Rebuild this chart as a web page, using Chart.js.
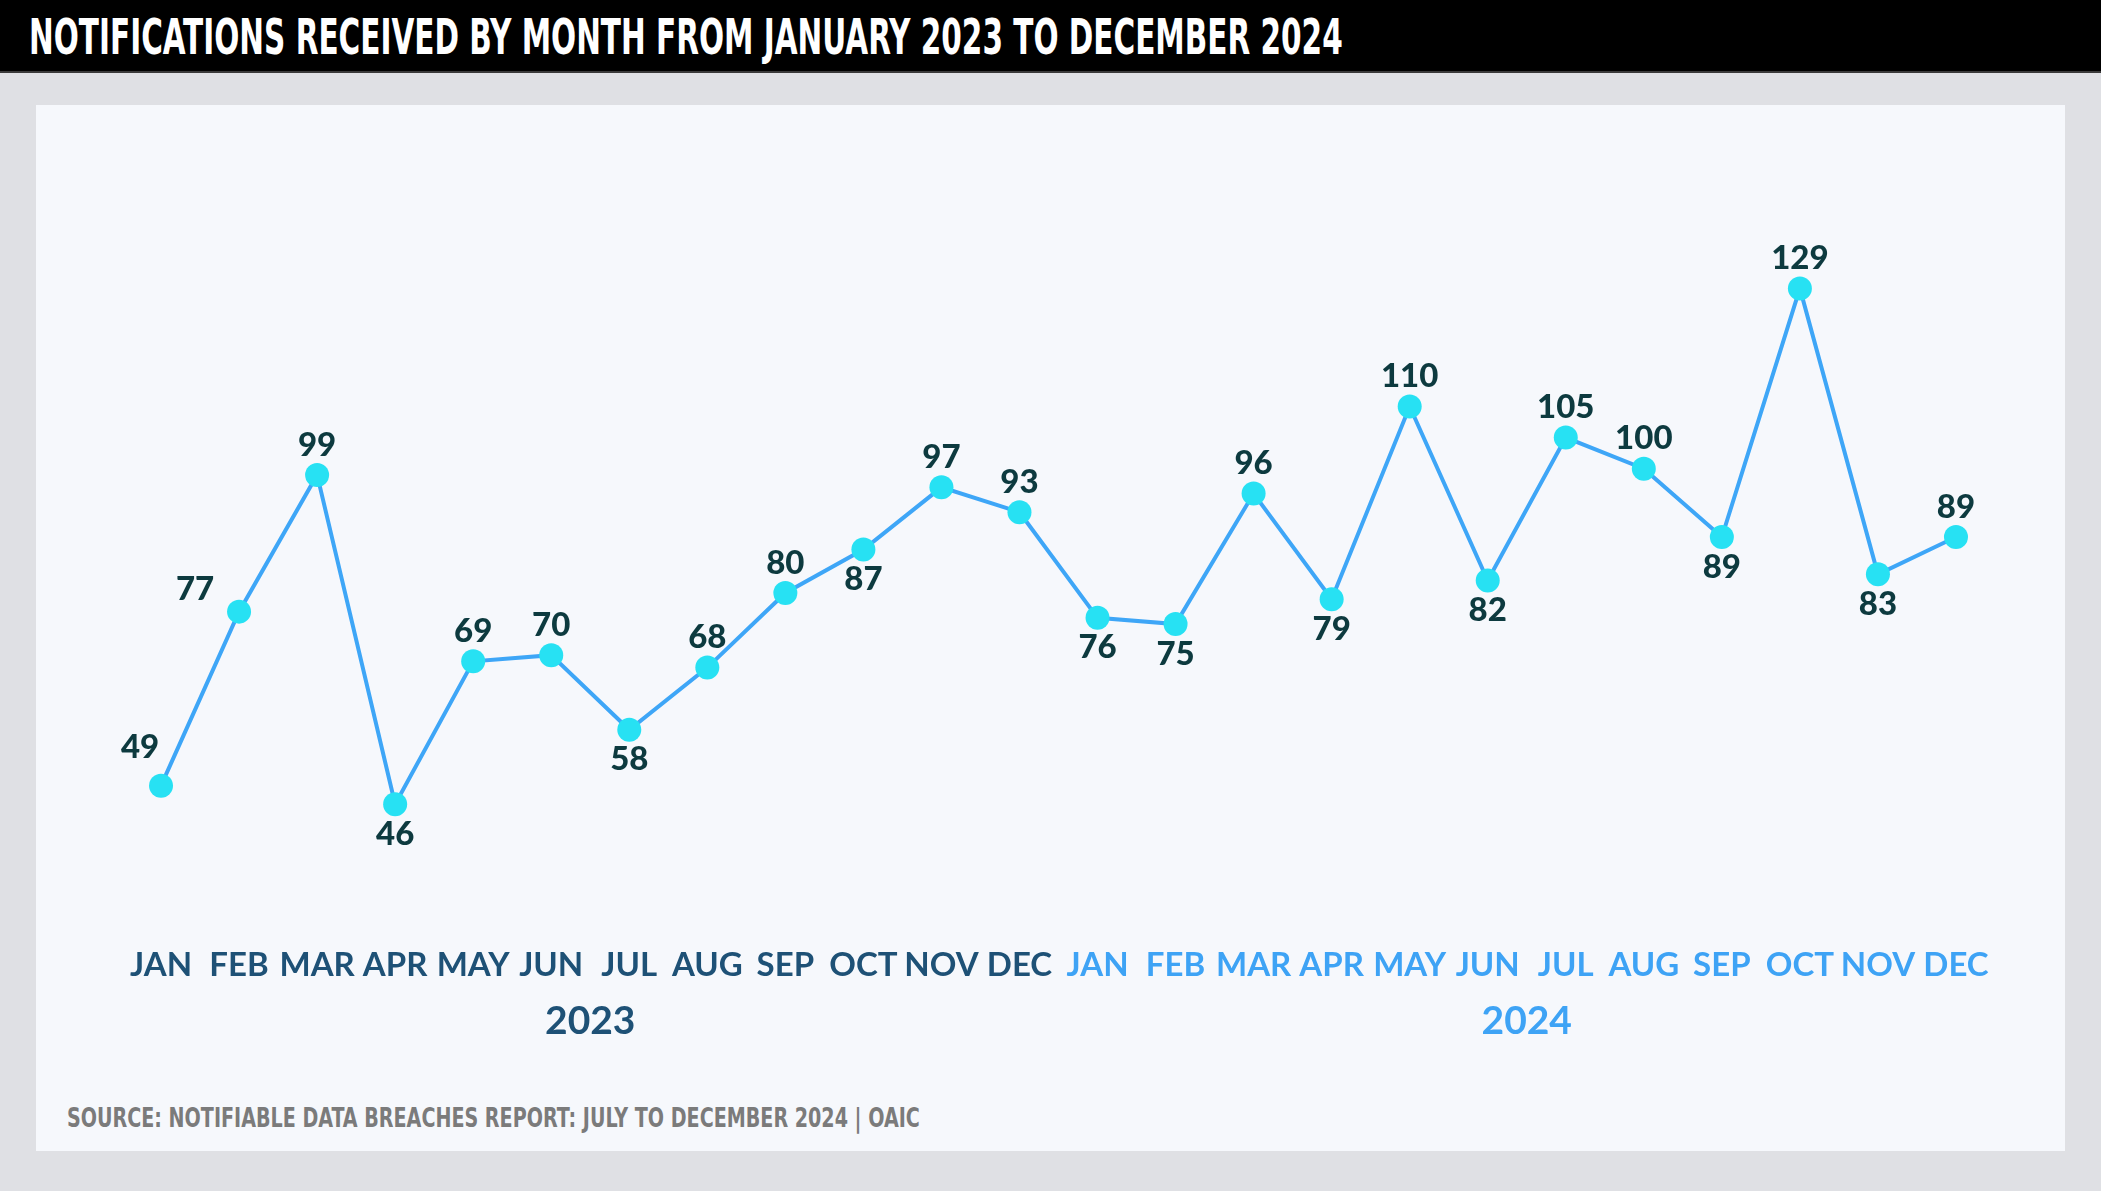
<!DOCTYPE html>
<html>
<head>
<meta charset="utf-8">
<script src="https://cdn.jsdelivr.net/npm/chart.js@4"></script>
<style>
  html, body { margin: 0; padding: 0; }
  body { width: 2101px; height: 1191px; background: #dfe0e4; position: relative; overflow: hidden; }
  #header { position: absolute; left: 0; top: 0; width: 2101px; height: 71px; background: #000; border-bottom: 2px solid #3a3a3a; }
  #title { position: absolute; left: 29px; top: 12px; color: #fff; font-family: "Liberation Sans Narrow", "DejaVu Sans Condensed", sans-serif; font-weight: bold; font-size: 50px; line-height: 50px; white-space: nowrap; transform-origin: 0 0; }
  #panel { position: absolute; left: 36px; top: 105px; width: 2029px; height: 1046px; background: #f6f8fc; }
  #source { position: absolute; left: 67px; top: 1105px; color: #7b7b7b; font-family: "Liberation Sans Narrow", "DejaVu Sans Condensed", sans-serif; font-weight: bold; font-size: 26px; line-height: 26px; white-space: nowrap; transform-origin: 0 0; }
  #chart { position: absolute; left: 0; top: 0; }
</style>
</head>
<body>
<div id="header"><div id="title">NOTIFICATIONS RECEIVED BY MONTH FROM JANUARY 2023 TO DECEMBER 2024</div></div>
<div id="panel"></div>
<div id="source">SOURCE: NOTIFIABLE DATA BREACHES REPORT: JULY TO DECEMBER 2024 | OAIC</div>
<canvas id="chart" width="2101" height="1191"></canvas>
<script>
const months = ["JAN", "FEB", "MAR", "APR", "MAY", "JUN", "JUL", "AUG", "SEP", "OCT", "NOV", "DEC"];
const years = ["2023", "2024"];
const notifications = [49, 77, 99, 46, 69, 70, 58, 68, 80, 87, 97, 93,
                       76, 75, 96, 79, 110, 82, 105, 100, 89, 129, 83, 89];
// where each value label sits relative to its point
const labelPlacement = ["upleft", "left", "above", "below", "above", "above", "below", "above", "above", "below", "above", "above",
                        "below", "below", "above", "below", "above", "below", "above", "above", "below", "above", "below", "above"];

const dark = "#1e5176";
const light = "#3ea3f5";

// fit a text block to a measured width
function fitWidth(id, w) {
  const el = document.getElementById(id);
  el.style.transform = "scaleX(" + (w / el.scrollWidth) + ")";
}
fitWidth("title", 1314);
fitWidth("source", 853);

const offsets = {
  above: [0, -30],
  below: [0, 30],
  upleft: [-21, -38],
  left: [-44, -22],
};

const valueLabels = {
  id: "valueLabels",
  afterDatasetsDraw(chart) {
    const ctx = chart.ctx;
    const meta = chart.getDatasetMeta(0);
    ctx.save();
    ctx.font = "900 33px Lato";
    ctx.fillStyle = "#0d3a3f";
    ctx.textAlign = "center";
    ctx.textBaseline = "middle";
    meta.data.forEach((pt, i) => {
      const off = offsets[labelPlacement[i]];
      ctx.fillText(String(notifications[i]), pt.x + off[0], pt.y + off[1]);
    });
    ctx.restore();
  },
};

new Chart(document.getElementById("chart"), {
  type: "line",
  data: {
    labels: months.concat(months),
    datasets: [
      {
        data: notifications,
        borderColor: "#3ea6f7",
        borderWidth: 4,
        pointRadius: 12,
        pointBorderWidth: 0,
        pointBackgroundColor: "#27e1f3",
        tension: 0,
        clip: false,
      },
    ],
  },
  options: {
    responsive: false,
    devicePixelRatio: 1,
    animation: false,
    layout: { padding: { left: 122, right: 106, top: 189, bottom: 146 } },
    plugins: { legend: { display: false }, tooltip: { enabled: false } },
    scales: {
      x: {
        type: "category",
        offset: true,
        grid: { display: false, drawTicks: true, tickLength: 104 },
        border: { display: false },
        ticks: {
          autoSkip: false,
          maxRotation: 0,
          padding: 0,
          font: { family: "Lato", weight: "bold", size: 33 },
          color: (c) => (c.index < 12 ? dark : light),
        },
      },
      x2: {
        type: "category",
        axis: "x",
        labels: years,
        position: "bottom",
        offset: true,
        grid: { display: false, drawTicks: true, tickLength: 13 },
        border: { display: false },
        ticks: {
          padding: 0,
          font: { family: "Lato", weight: "bold", size: 39 },
          color: (c) => (c.index === 0 ? dark : light),
        },
      },
      y: { display: false, min: 40, max: 145 },
    },
  },
  plugins: [valueLabels],
});
</script>
</body>
</html>
